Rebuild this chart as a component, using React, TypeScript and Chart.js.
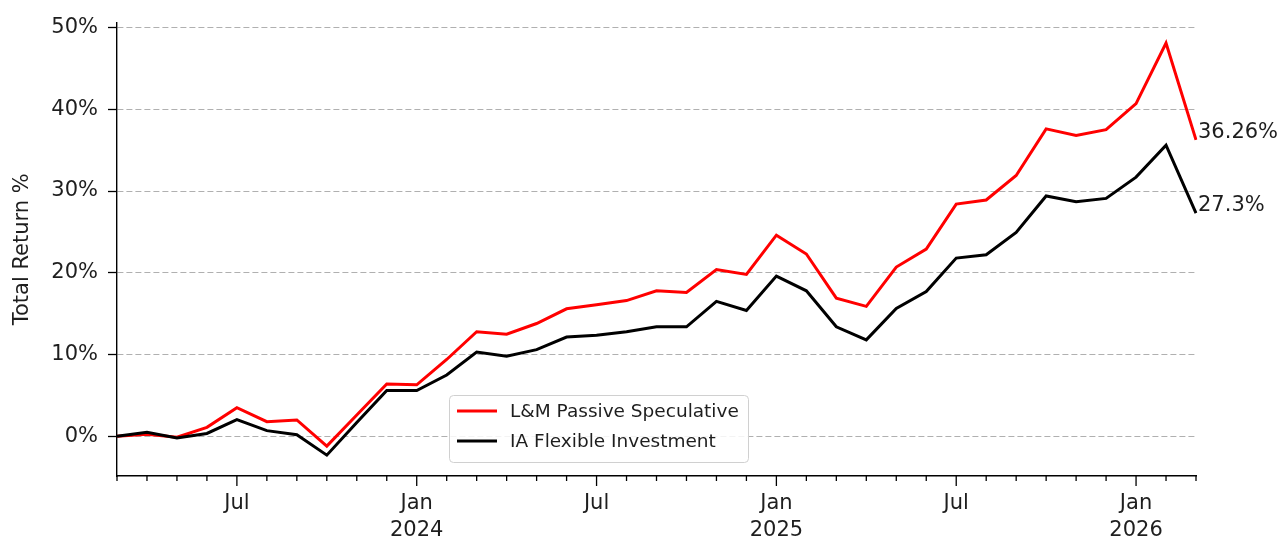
import React, { useEffect, useRef } from 'react';
import { Chart, registerables } from 'chart.js';

Chart.register(...registerables);

// Monthly dates, Mar 2023 .. Mar 2026
const months = [
  '2023-03', '2023-04', '2023-05', '2023-06', '2023-07', '2023-08', '2023-09', '2023-10', '2023-11', '2023-12',
  '2024-01', '2024-02', '2024-03', '2024-04', '2024-05', '2024-06', '2024-07', '2024-08', '2024-09', '2024-10', '2024-11', '2024-12',
  '2025-01', '2025-02', '2025-03', '2025-04', '2025-05', '2025-06', '2025-07', '2025-08', '2025-09', '2025-10', '2025-11', '2025-12',
  '2026-01', '2026-02', '2026-03',
];

const lmPassiveSpeculative = [
  0, 0.25, -0.1, 1.1, 3.5, 1.8, 2.0, -1.2, 2.6, 6.4,
  6.3, 9.4, 12.8, 12.5, 13.8, 15.6, 16.1, 16.6, 17.8, 17.6, 20.4, 19.8,
  24.6, 22.3, 16.9, 15.9, 20.7, 22.9, 28.4, 28.9, 31.9, 37.6, 36.8, 37.5,
  40.7, 48.1, 36.26,
];

const iaFlexibleInvestment = [
  0, 0.5, -0.2, 0.35, 2.05, 0.7, 0.2, -2.3, 1.7, 5.6,
  5.6, 7.5, 10.3, 9.8, 10.6, 12.15, 12.35, 12.8, 13.4, 13.4, 16.5, 15.4,
  19.6, 17.8, 13.4, 11.8, 15.65, 17.7, 21.8, 22.2, 24.95, 29.4, 28.7, 29.1,
  31.7, 35.6, 27.3,
];

const seriesNames = ['L&M Passive Speculative', 'IA Flexible Investment'];
const seriesColors = ['#ff0000', '#000000'];
const yTickValues = [0, 10, 20, 30, 40, 50];
const yMin = -4.85;
const yMax = 50.6;
const monthAbbr = ['Jan', 'Feb', 'Mar', 'Apr', 'May', 'Jun', 'Jul', 'Aug', 'Sep', 'Oct', 'Nov', 'Dec'];

const FONT = '"DejaVu Sans", sans-serif';
const TEXT = '#1e1e1e';

export default function App() {
  const ref = useRef<HTMLCanvasElement>(null);

  useEffect(() => {
    if (!ref.current) return;

    const tickMarks = {
      id: 'tickMarks',
      afterDraw(chart: any) {
        const xs = chart.scales.x;
        const ctx = chart.ctx;
        ctx.save();
        ctx.strokeStyle = '#000';
        ctx.lineWidth = 1.3;
        months.forEach((m, i) => {
          const mo = parseInt(m.slice(5), 10);
          const major = mo === 1 || mo === 7;
          const x = xs.getPixelForValue(i);
          ctx.beginPath();
          ctx.moveTo(x, xs.top);
          ctx.lineTo(x, xs.top + (major ? 10 : 5));
          ctx.stroke();
        });
        ctx.restore();
      },
    };

    const endLabels = {
      id: 'endLabels',
      afterDatasetsDraw(chart: any) {
        const ctx = chart.ctx;
        ctx.save();
        ctx.font = `21px ${FONT}`;
        ctx.fillStyle = TEXT;
        ctx.textAlign = 'left';
        ctx.textBaseline = 'alphabetic';
        chart.data.datasets.forEach((ds: any, di: number) => {
          const meta = chart.getDatasetMeta(di);
          const pt = meta.data[meta.data.length - 1];
          const v = ds.data[ds.data.length - 1];
          ctx.fillText(`${v}%`, pt.x + 2, pt.y - 2);
        });
        ctx.restore();
      },
    };

    const boxLegend = {
      id: 'boxLegend',
      afterDraw(chart: any) {
        const ca = chart.chartArea;
        const ctx = chart.ctx;
        const x0 = ca.left + 332;
        const w = 299;
        const h = 67;
        const y0 = ca.bottom - 14 - h;
        ctx.save();
        ctx.fillStyle = 'rgba(255,255,255,0.85)';
        ctx.strokeStyle = '#d0d0d0';
        ctx.lineWidth = 1;
        ctx.beginPath();
        (ctx as any).roundRect(x0 + 0.5, y0 + 0.5, w, h, 4);
        ctx.fill();
        ctx.stroke();
        ctx.font = `18.5px ${FONT}`;
        ctx.textBaseline = 'middle';
        ctx.textAlign = 'left';
        seriesNames.forEach((name, i) => {
          const yy = y0 + 16 + i * 30;
          ctx.strokeStyle = seriesColors[i];
          ctx.lineWidth = 3;
          ctx.beginPath();
          ctx.moveTo(x0 + 8, yy);
          ctx.lineTo(x0 + 48, yy);
          ctx.stroke();
          ctx.fillStyle = TEXT;
          ctx.fillText(name, x0 + 61, yy + 1);
        });
        ctx.restore();
      },
    };

    const chart = new Chart(ref.current, {
      type: 'line',
      data: {
        labels: months,
        datasets: [
          {
            label: seriesNames[1],
            data: iaFlexibleInvestment,
            borderColor: seriesColors[1],
            backgroundColor: seriesColors[1],
            borderWidth: 3,
            pointRadius: 0,
            tension: 0,
          },
          {
            label: seriesNames[0],
            data: lmPassiveSpeculative,
            borderColor: seriesColors[0],
            backgroundColor: seriesColors[0],
            borderWidth: 3,
            pointRadius: 0,
            tension: 0,
          },
        ],
      },
      options: {
        animation: false,
        responsive: true,
        maintainAspectRatio: false,
        layout: { padding: { left: 0, top: 18, right: 83, bottom: 0 } },
        plugins: {
          legend: { display: false },
          tooltip: { enabled: false },
        },
        scales: {
          x: {
            type: 'category',
            offset: false,
            grid: { display: false, drawTicks: true, tickLength: 10 },
            border: { display: true, color: '#000', width: 1.4 },
            ticks: {
              autoSkip: false,
              maxRotation: 0,
              minRotation: 0,
              padding: 4,
              color: TEXT,
              font: { family: FONT, size: 21, lineHeight: 1.3 },
              callback: function (this: any, value: any) {
                const lab: string = this.getLabelForValue(value);
                const yr = lab.slice(0, 4);
                const mo = parseInt(lab.slice(5), 10);
                if (mo === 7) return monthAbbr[6];
                if (mo === 1) return [monthAbbr[0], yr];
                return '';
              },
            },
            afterFit(scale: any) {
              scale.height = 66;
            },
          },
          y: {
            type: 'linear',
            min: yMin,
            max: yMax,
            afterBuildTicks(scale: any) {
              scale.ticks = yTickValues.map((v) => ({ value: v }));
            },
            afterFit(scale: any) {
              scale.width = 117;
            },
            grid: {
              color: '#b0b0b0',
              lineWidth: 1,
              drawTicks: true,
              tickLength: 9,
              tickColor: '#000',
              tickWidth: 1.3,
            },
            border: { display: true, color: '#000', width: 1.4, dash: [6, 3] },
            ticks: {
              padding: 10,
              color: TEXT,
              font: { family: FONT, size: 21 },
              callback: (v: any) => `${v}%`,
            },
            title: {
              display: true,
              text: 'Total Return %',
              color: TEXT,
              font: { family: FONT, size: 21 },
              padding: { top: 10, bottom: 0 },
            },
          },
        },
      },
      plugins: [tickMarks, endLabels, boxLegend],
    });

    return () => chart.destroy();
  }, []);

  return (
    <div style={{ position: 'absolute', left: 0, top: 0, width: 1279, height: 542, background: '#fff' }}>
      <canvas ref={ref} />
    </div>
  );
}
